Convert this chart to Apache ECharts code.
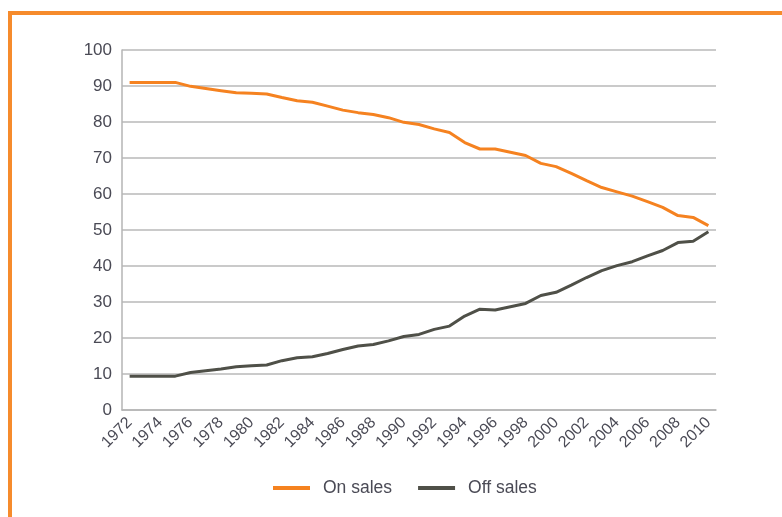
<!DOCTYPE html>
<html>
<head>
<meta charset="utf-8">
<script src="https://cdn.jsdelivr.net/npm/echarts@6/dist/echarts.min.js"></script>
<style>
  html, body { margin: 0; padding: 0; background: #fff; }
  #frame {
    position: absolute; left: 8px; top: 11px; width: 800px; height: 520px;
    border-left: 4px solid #F68B2C; border-top: 4px solid #F68B2C;
  }
  #chart { position: absolute; left: 0; top: 0; width: 782px; height: 517px; }
</style>
</head>
<body>
<div id="frame"></div>
<div id="chart"></div>
<script>
// years on the x axis
const years = [];
for (let y = 1972; y <= 2010; y++) years.push(String(y));

// share of sales (%)
const onSales = [91, 91, 91, 91, 89.9, 89.3, 88.7, 88.1, 88.0, 87.8,
  86.8, 85.9, 85.5, 84.4, 83.3, 82.6, 82.1, 81.2, 79.9, 79.3,
  78.1, 77.1, 74.3, 72.5, 72.5, 71.6, 70.7, 68.5, 67.6, 65.7,
  63.7, 61.8, 60.6, 59.4, 57.9, 56.3, 54.0, 53.5, 51.2];
const offSales = [9.4, 9.4, 9.4, 9.4, 10.4, 10.9, 11.4, 12.0, 12.3, 12.5,
  13.7, 14.5, 14.8, 15.7, 16.8, 17.8, 18.2, 19.2, 20.4, 21.0,
  22.4, 23.3, 26.1, 28.0, 27.8, 28.7, 29.6, 31.8, 32.7, 34.7,
  36.8, 38.7, 40.1, 41.2, 42.8, 44.3, 46.5, 46.9, 49.5];

const seriesNames = ['On sales', 'Off sales'];
const fontFam = '"Liberation Sans", Arial, sans-serif';

const myChart = echarts.init(document.getElementById('chart'));

const option = {
  animation: false,
  grid: { left: 122, right: 66, top: 50, bottom: 107 },
  legend: {
    data: seriesNames,
    left: 268,
    top: 474,
    icon: 'rect',
    itemWidth: 37,
    itemHeight: 4,
    itemGap: 26,
    textStyle: { fontFamily: fontFam, fontSize: 17.5, color: '#4a4a55', padding: [0, 0, 0, 8] }
  },
  xAxis: {
    type: 'category',
    data: years,
    boundaryGap: true,
    axisLine: { lineStyle: { color: '#b5b5b5', width: 1.5 } },
    axisTick: { show: false },
    axisLabel: {
      interval: 1,
      rotate: 45,
      margin: 10,
      fontFamily: fontFam,
      fontSize: 16,
      color: '#4a4a55'
    }
  },
  yAxis: {
    type: 'value',
    min: 0,
    max: 100,
    interval: 10,
    axisLine: { show: true, lineStyle: { color: '#b5b5b5', width: 1.5 } },
    axisTick: { show: false },
    axisLabel: { margin: 10, fontFamily: fontFam, fontSize: 17, color: '#4a4a55' },
    splitLine: { lineStyle: { color: '#b9b9b9', width: 1.5 } }
  },
  series: [
    {
      name: seriesNames[0],
      type: 'line',
      data: onSales,
      symbol: 'none',
      lineStyle: { color: '#F58220', width: 3 },
      itemStyle: { color: '#F58220' }
    },
    {
      name: seriesNames[1],
      type: 'line',
      data: offSales,
      symbol: 'none',
      lineStyle: { color: '#4F5048', width: 3 },
      itemStyle: { color: '#4F5048' }
    }
  ]
};

myChart.setOption(option);
</script>
</body>
</html>
